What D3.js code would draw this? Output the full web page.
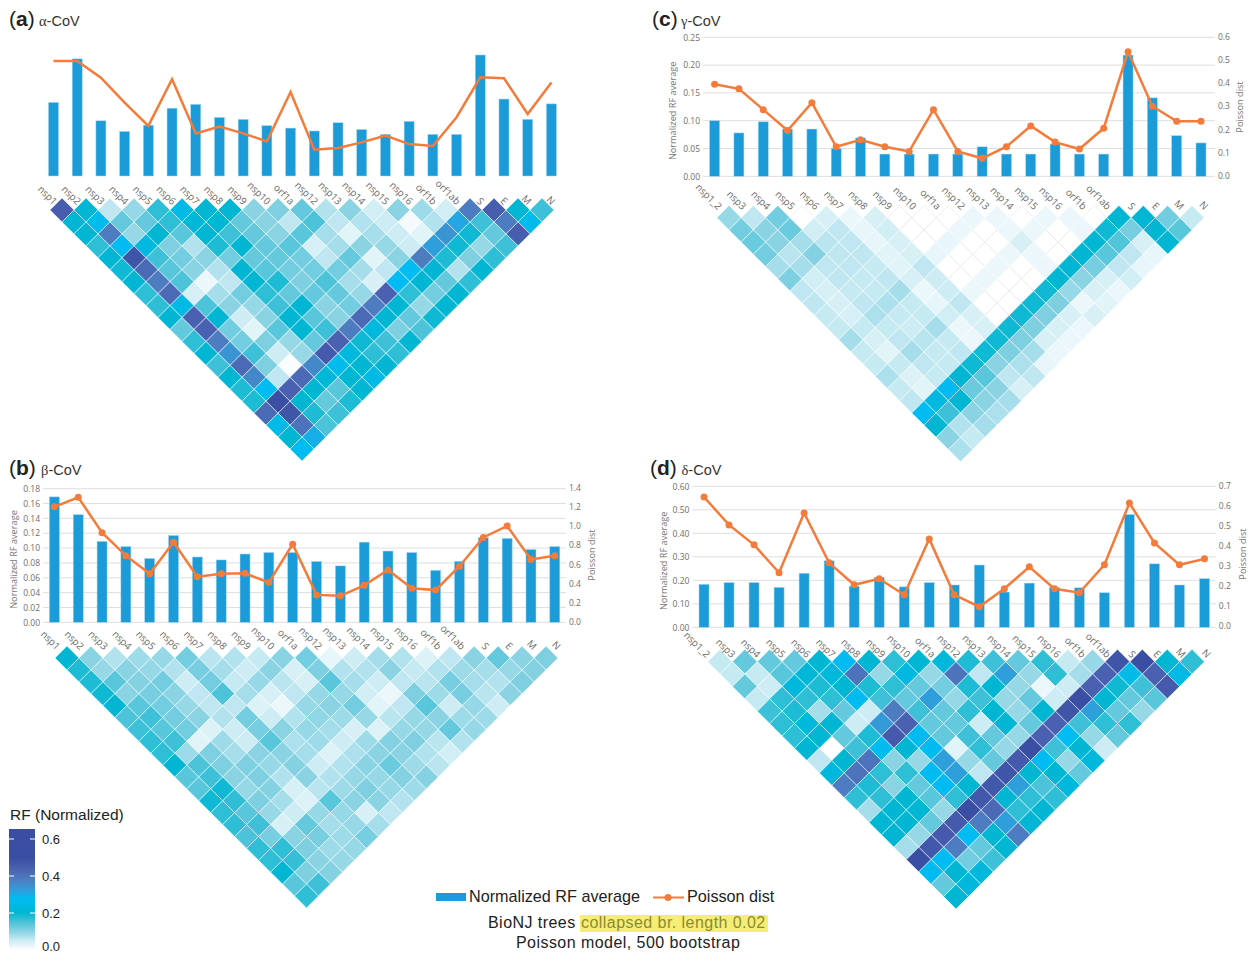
<!DOCTYPE html>
<html>
<head>
<meta charset="utf-8">
<script src="https://cdn.jsdelivr.net/npm/d3@7"></script>
<style>
  html, body { margin: 0; padding: 0; background: #fff; overflow: hidden; }
  svg { display: block; }
</style>
</head>
<body>
<div id="chart"></div>
<script>
// Gene labels
const genes22 = ["nsp1","nsp2","nsp3","nsp4","nsp5","nsp6","nsp7","nsp8","nsp9","nsp10","orf1a","nsp12","nsp13","nsp14","nsp15","nsp16","orf1b","orf1ab","S","E","M","N"];
const genes21 = ["nsp1_2","nsp3","nsp4","nsp5","nsp6","nsp7","nsp8","nsp9","nsp10","orf1a","nsp12","nsp13","nsp14","nsp15","nsp16","orf1b","orf1ab","S","E","M","N"];

// Bar and line values. Panel (a) has no axes so its units are relative.
const alphaRF = [.152,.242,.114,.092,.105,.14,.148,.121,.117,.104,.099,.093,.11,.096,.086,.113,.086,.086,.25,.159,.117,.149];
const alphaPoisson = [.475,.475,.406,.303,.207,.40,.176,.204,.176,.143,.347,.109,.116,.139,.167,.132,.124,.243,.408,.404,.256,.386];
const betaRF = [.169,.145,.109,.102,.086,.117,.088,.084,.092,.094,.094,.082,.076,.108,.096,.094,.070,.082,.114,.113,.098,.102];
const betaPoisson = [1.2,1.3,.93,.69,.5,.83,.47,.5,.505,.41,.81,.28,.27,.38,.54,.35,.33,.58,.88,1.0,.65,.69];
const gammaRF = [.10,.078,.098,.085,.085,.05,.069,.04,.04,.04,.04,.053,.04,.04,.058,.04,.04,.218,.141,.073,.06];
const gammaPoisson = [.395,.375,.285,.195,.315,.125,.155,.125,.105,.285,.105,.075,.125,.215,.145,.115,.205,.535,.30,.235,.235];
const deltaRF = [.183,.19,.19,.17,.23,.283,.175,.213,.172,.19,.18,.265,.15,.188,.17,.168,.147,.48,.27,.18,.207];
const deltaPoisson = [.645,.505,.405,.265,.565,.315,.205,.235,.155,.435,.155,.095,.185,.295,.185,.165,.305,.615,.415,.305,.335];

// Pairwise RF, one array per row of the triangle: row r holds pairs (gene c, gene c+r+1)
const alphaCells = [
  [.45,.2,.06,.09,.17,.24,.2,.2,.10,.11,.13,.07,.10,.045,.10,.085,.045,.38,.45,.2,.16],
  [.2,.26,.13,.13,.17,.21,.2,.13,.10,.06,.15,.06,.07,.05,.01,.07,.31,.16,.38,.26],
  [.2,.38,.09,.2,.14,.2,.16,.13,.10,.14,.08,.03,.08,.05,.03,.34,.19,.13,.45],
  [.17,.28,.23,.11,.07,.18,.2,.13,.14,.04,.08,.10,.09,.05,.32,.19,.09,.16],
  [.2,.48,.16,.12,.10,.12,.13,.13,.12,.06,.13,.03,.10,.38,.18,.11,.17],
  [.19,.42,.14,.10,.07,.2,.14,.12,.12,.12,.08,.06,.28,.2,.07,.2],
  [.2,.38,.15,.02,.06,.2,.18,.11,.15,.08,.04,.28,.2,.13,.17],
  [.17,.42,.04,.08,.12,.17,.13,.13,.13,.09,.44,.17,.12,.2],
  [.17,.24,.15,.10,.09,.16,.2,.10,.12,.38,.2,.09,.2],
  [.2,.44,.2,.05,.1,.2,.14,.10,.42,.2,.13,.19],
  [.13,.44,.12,.03,.14,.2,.16,.38,.22,.11,.15],
  [.17,.38,.12,.11,.09,.13,.44,.19,.16,.2],
  [.2,.34,.16,.05,.09,.46,.22,.17,.17],
  [.16,.42,.11,.005,.36,.26,.2,.2],
  [.2,.36,.06,.42,.21,.2,.24],
  [.18,.28,.44,.2,.14,.2],
  [.18,.5,.2,.13,.18],
  [.42,.48,.18,.16],
  [.25,.4,.15],
  [.2,.3],
  [.27]
];
const betaCells = [
  [.2,.10,.07,.085,.09,.12,.065,.07,.055,.1,.12,.025,.05,.08,.07,.035,.06,.1,.13,.1,.11],
  [.18,.09,.10,.09,.07,.115,.08,.05,.1,.04,.11,.07,.07,.1,.055,.07,.085,.08,.09,.105],
  [.18,.14,.105,.12,.05,.12,.055,.09,.065,.04,.14,.08,.05,.06,.065,.115,.08,.07,.11],
  [.19,.10,.115,.1,.06,.15,.08,.04,.06,.09,.09,.045,.02,.11,.085,.115,.065,.1],
  [.2,.14,.12,.09,.06,.06,.035,.02,.09,.10,.12,.03,.06,.14,.05,.09,.05],
  [.15,.16,.12,.10,.07,.12,.05,.07,.095,.085,.09,.065,.09,.1,.085,.085],
  [.16,.14,.12,.035,.05,.115,.1,.09,.08,.04,.035,.09,.09,.13,.09],
  [.17,.16,.03,.085,.05,.14,.075,.085,.05,.085,.105,.11,.065,.07],
  [.17,.085,.11,.08,.1,.1,.08,.035,.075,.1,.1,.07,.045],
  [.2,.15,.11,.11,.09,.105,.05,.07,.1,.125,.085,.065],
  [.14,.16,.1,.11,.07,.1,.07,.09,.09,.105,.105],
  [.14,.19,.09,.105,.04,.065,.085,.11,.09,.085],
  [.19,.17,.11,.08,.035,.14,.1,.1,.07],
  [.17,.14,.09,.05,.09,.09,.04,.06],
  [.17,.16,.04,.13,.08,.09,.08],
  [.15,.115,.1,.115,.085,.115],
  [.17,.17,.11,.085,.09],
  [.17,.165,.1,.09],
  [.2,.11,.105],
  [.14,.16],
  [.17]
];
const gammaCells = [
  [.09,.06,.12,0,.04,.02,.04,0,0,0,.02,.02,0,.02,.02,0,.2,.2,.12,.055],
  [.12,.10,.125,.045,.06,.025,.045,0,0,.02,0,.02,.02,0,.02,.19,.115,.2,.14],
  [.125,.1,.08,.065,.06,.025,.04,0,.025,0,0,.04,0,0,.2,.145,.04,.2],
  [.12,.065,.105,.06,.06,.03,.04,.025,0,0,.02,.02,0,.2,.14,.06,.025],
  [.08,.08,.06,.06,.055,.03,.06,0,0,.02,0,.02,.2,.115,.06,.025],
  [.11,.045,.06,.055,.06,.04,.05,0,.02,0,0,.2,.1,.04,.045],
  [.06,.04,.055,.055,.08,.02,.05,.02,0,0,.19,.09,.04,.02],
  [.06,.04,.06,.075,.055,.025,.06,0,0,.19,.11,.02,.03],
  [.055,.04,.075,.055,.055,.045,.04,0,.19,.11,.04,.04],
  [.055,.055,.055,.05,.08,.02,.04,.19,.11,.04,.02],
  [.08,.04,.06,.065,.055,.02,.19,.11,.04,.02],
  [.055,.03,.08,.055,.06,.19,.11,.08,.02],
  [.055,.055,.06,.055,.19,.1,.075,.025],
  [.075,.035,.055,.2,.14,.06,.06],
  [.055,.03,.27,.125,.1,.04],
  [.06,.23,.2,.1,.08],
  [.28,.16,.1,.075],
  [.2,.07,.08],
  [.1,.055],
  [.075]
];
const deltaCells = [
  [.055,.13,.13,.13,.2,.28,.2,.17,.2,.22,.18,.16,.13,.17,.055,.09,.48,.5,.2,.17],
  [.055,.055,.14,.21,.22,.40,.09,.23,.09,.4,.06,.32,.09,.17,.08,.44,.25,.44,.24],
  [.13,.05,.22,.18,.2,.18,.17,.13,.12,.18,.2,.09,.02,.05,.44,.19,.16,.46],
  [.055,.17,.17,.17,.27,.16,.13,.32,.09,.16,.09,.13,.05,.5,.2,.13,.14],
  [.16,.18,.08,.13,.05,.38,.16,.13,.17,.2,.09,.2,.48,.32,.13,.09],
  [.17,.22,.2,.05,.33,.44,.13,.13,.05,.2,.13,.44,.16,.17,.17],
  [.17,.2,.13,.18,.46,.27,.13,.16,.13,.09,.44,.28,.09,.13],
  [.2,0,.16,.27,.2,.27,.03,.17,.09,.5,.16,.2,.05],
  [.06,.2,.4,.1,.09,.32,.09,.13,.46,.28,.09,.22],
  [.22,.4,.17,.17,.27,.32,.06,.48,.2,.2,.13],
  [.38,.18,.1,.13,.28,.2,.47,.32,.15,.22],
  [.17,.17,.2,.14,.17,.47,.2,.17,.17],
  [.08,.2,.2,.09,.5,.42,.17,.2],
  [.2,.2,.13,.46,.38,.32,.2],
  [.2,.09,.46,.28,.2,.38],
  [.08,.47,.38,.13,.2],
  [.5,.28,.12,.16],
  [.27,.2,.22],
  [.13,.22],
  [.2]
];

// Colour ramp stops, same for all four triangles and the colour bar
const colorStops = [0,.05,.1,.15,.2,.24,.28,.32,.38,.44,.5,.65];
const colorValues = ["#ffffff","#cdecf4","#8ad3e3","#4cc3d9","#00b6d2","#00b9e4","#00bcf2","#2f9fdc","#4d7dc0","#4a60b0","#3a4fa3","#3a4ca3"];
const rfColor = d3.scaleLinear().domain(colorStops).range(colorValues);

const legendTicks = [0.6, 0.4, 0.2, 0.0];

const barColor = "#1b9cd8";
const lineColor = "#f47b3a";
const tickFont = "'Open Sans', sans-serif";
const textFont = "'Liberation Sans', Arial, sans-serif";

const width = 1250, height = 953;
const svg = d3.select("#chart").append("svg").attr("width", width).attr("height", height);

function drawPanel(p) {
  const g = svg.append("g");

  // Panel heading
  const head = g.append("text").attr("x", p.headX).attr("y", p.headY)
    .style("font-family", textFont).style("font-size", "21px").attr("fill", "#222");
  head.append("tspan").text("(");
  head.append("tspan").text(p.letter).style("font-weight", "bold");
  head.append("tspan").text(")");
  const sub = g.append("text").attr("x", p.subX).attr("y", p.headY)
    .style("font-size", "14.5px").attr("fill", "#333");
  sub.append("tspan").text(p.greek).style("font-family", "'Liberation Serif', serif");
  sub.append("tspan").text("-CoV").style("font-family", textFont);

  // Scales for the combo chart
  const x = d3.scalePoint().domain(p.genes).range([p.barFirst, p.barLast]);
  const y = d3.scaleLinear().domain(p.rfDomain).range([p.base, p.rfTop]);
  const y2 = d3.scaleLinear().domain(p.poissonDomain).range([p.base2, p.poissonTop]);

  if (p.rfTicks) {
    // Grid lines, then tick labels on both sides
    g.append("g").selectAll("line").data(p.rfTicks).enter().append("line")
      .attr("x1", p.gridLeft).attr("x2", p.gridRight)
      .attr("y1", d => y(d)).attr("y2", d => y(d))
      .attr("stroke", "#dedede").attr("stroke-width", 1);

    const left = g.append("g").attr("transform", `translate(${p.gridLeft - 1},0)`)
      .call(d3.axisLeft(y).tickValues(p.rfTicks).tickSize(0).tickPadding(2).tickFormat(d3.format(".2f")));
    const right = g.append("g").attr("transform", `translate(${p.gridRight + 1},0)`)
      .call(d3.axisRight(y2).tickValues(p.poissonTicks).tickSize(0).tickPadding(2).tickFormat(d3.format(".1f")));
    [left, right].forEach(a => {
      a.select(".domain").remove();
      a.selectAll("text").style("font-family", tickFont).style("font-size", "8.5px").attr("fill", "#6e6e6e");
    });

    g.append("text").text("Normalized RF average")
      .attr("transform", `translate(${p.titleLeft},${(p.base + p.rfTop) / 2 + 4}) rotate(-90)`)
      .attr("text-anchor", "middle").style("font-family", tickFont).style("font-size", "9.2px").attr("fill", "#777");
    g.append("text").text("Poisson dist")
      .attr("transform", `translate(${p.titleRight},${p.poissonTitleY}) rotate(-90)`)
      .attr("text-anchor", "middle").style("font-family", tickFont).style("font-size", "9.2px").attr("fill", "#777");
  }

  // Bars
  g.append("g").selectAll("rect").data(p.rf).enter().append("rect")
    .attr("x", (d, i) => x(p.genes[i]) - 5)
    .attr("width", 10)
    .attr("y", d => y(d))
    .attr("height", d => y(0) - y(d))
    .attr("fill", barColor)
    .attr("stroke", "#9fd4ef").attr("stroke-width", 0.5);

  // Poisson line, markers on all panels except (a)
  const line = d3.line().x((d, i) => x(p.genes[i])).y(d => y2(d));
  g.append("path").datum(p.poisson).attr("d", line)
    .attr("fill", "none").attr("stroke", lineColor).attr("stroke-width", 2.5);
  if (p.markers) {
    g.append("g").selectAll("circle").data(p.poisson).enter().append("circle")
      .attr("cx", (d, i) => x(p.genes[i])).attr("cy", d => y2(d)).attr("r", 3.5)
      .attr("fill", lineColor);
  }

  // Triangle of pairs: cell index runs along the top row, row index runs downwards
  const n = p.cells.length;
  const u = d3.scaleLinear().domain([0, n - 1]).range([p.triLeft, p.triRight]);
  const v = d3.scaleLinear().domain([0, n - 1]).range([p.triTop, p.triBottom]);
  const hx = (u(1) - u(0)) / 2, hy = (v(1) - v(0));
  const cells = p.cells.flatMap((row, r) => row.map((value, c) => ({r, c, value})));
  const diamond = d => {
    const cx = u(d.c + d.r / 2), cy = v(d.r);
    return `M${cx},${cy - hy}L${cx + hx},${cy}L${cx},${cy + hy}L${cx - hx},${cy}Z`;
  };
  // White (zero) cells first, so their grey outline sits under the coloured neighbours
  g.append("g").selectAll("path")
    .data(cells.slice().sort((a, b) => (a.value === 0 ? 0 : 1) - (b.value === 0 ? 0 : 1)))
    .enter().append("path")
    .attr("d", diamond)
    .attr("fill", d => rfColor(d.value))
    .attr("stroke", d => d.value === 0 ? "#dcdcdc" : "#ffffff")
    .attr("stroke-width", 0.5);

  // Rotated gene labels, on top of the triangle
  const xAxis = g.append("g").attr("transform", `translate(0,${p.labelY})`)
    .call(d3.axisBottom(x).tickSize(0));
  xAxis.select(".domain").remove();
  xAxis.selectAll("text")
    .attr("y", 0).attr("dy", "0.35em")
    .attr("transform", `translate(${p.labelDx},0) rotate(45)`)
    .style("text-anchor", "end")
    .style("font-family", tickFont).style("font-size", "9.8px").attr("fill", "#6a6a6a");
}

const panels = [
  {letter: "a", greek: "α", headX: 9, subX: 39, headY: 26, genes: genes22, rf: alphaRF, poisson: alphaPoisson,
   rfDomain: [0, .25], poissonDomain: [0, .5], base: 176, rfTop: 55, base2: 176, poissonTop: 55,
   barFirst: 53.5, barLast: 551.4, markers: false, labelY: 203, labelDx: 1.5,
   cells: alphaCells, triLeft: 62, triRight: 542, triTop: 210, triBottom: 449},
  {letter: "b", greek: "β", headX: 9, subX: 41, headY: 475, genes: genes22, rf: betaRF, poisson: betaPoisson,
   rfDomain: [0, .18], poissonDomain: [0, 1.4], base: 622.3, rfTop: 488.7, base2: 621.7, poissonTop: 487.7,
   rfTicks: d3.range(0, .181, .02), poissonTicks: d3.range(0, 1.41, .2),
   gridLeft: 43, gridRight: 566, titleLeft: 17, titleRight: 595, poissonTitleY: 555,
   barFirst: 54.4, barLast: 554.8, markers: true, labelY: 648, labelDx: 3.5,
   cells: betaCells, triLeft: 67, triRight: 546, triTop: 658, triBottom: 896},
  {letter: "c", greek: "γ", headX: 652, subX: 681, headY: 26, genes: genes21, rf: gammaRF, poisson: gammaPoisson,
   rfDomain: [0, .25], poissonDomain: [0, .6], base: 176.3, rfTop: 37.3, base2: 175.7, poissonTop: 36.7,
   rfTicks: d3.range(0, .251, .05), poissonTicks: d3.range(0, .61, .1),
   gridLeft: 703, gridRight: 1215, titleLeft: 676, titleRight: 1243, poissonTitleY: 107,
   barFirst: 714.6, barLast: 1201, markers: true, labelY: 208, labelDx: 5,
   cells: gammaCells, triLeft: 729, triRight: 1192, triTop: 217.7, triBottom: 449.5},
  {letter: "d", greek: "δ", headX: 650, subX: 681.5, headY: 475, genes: genes21, rf: deltaRF, poisson: deltaPoisson,
   rfDomain: [0, .6], poissonDomain: [0, .7], base: 627.3, rfTop: 486.3, base2: 625.7, poissonTop: 486,
   rfTicks: d3.range(0, .601, .1), poissonTicks: d3.range(0, .71, .1),
   gridLeft: 692.4, gridRight: 1215.8, titleLeft: 667, titleRight: 1246, poissonTitleY: 554,
   barFirst: 704, barLast: 1204.5, markers: true, labelY: 656, labelDx: 4,
   cells: deltaCells, triLeft: 720, triRight: 1192, triTop: 661.7, triBottom: 896.6}
];
panels.forEach(drawPanel);

// Colour bar, running down to the bottom edge of the page
const legendScale = d3.scaleLinear().domain([0, 0.6]).range([950, 839]);
const defs = svg.append("defs");
const grad = defs.append("linearGradient").attr("id", "rf-grad")
  .attr("x1", 0).attr("x2", 0).attr("y1", 1).attr("y2", 0);
grad.selectAll("stop").data(colorStops).enter().append("stop")
  .attr("offset", d => d / 0.654)
  .attr("stop-color", d => rfColor(d));

const legend = svg.append("g");
legend.append("text").text("RF (Normalized)").attr("x", 10).attr("y", 820)
  .style("font-family", textFont).style("font-size", "15.5px").attr("fill", "#222");
legend.append("rect").attr("x", 9).attr("width", 26)
  .attr("y", legendScale(0.654)).attr("height", legendScale(0) - legendScale(0.654))
  .attr("fill", "url(#rf-grad)");
const tick = legend.selectAll("g.t").data(legendTicks).enter().append("g").attr("class", "t")
  .attr("transform", d => `translate(0,${legendScale(d)})`);
tick.filter(d => d > 0).append("line").attr("x1", 9).attr("x2", 14).attr("stroke", "#fff");
tick.filter(d => d > 0).append("line").attr("x1", 30).attr("x2", 35).attr("stroke", "#fff");
// 0.0 nudged up a little so it stays on the page
tick.append("text").text(d => d.toFixed(1)).attr("x", 42).attr("dy", "0.36em")
  .attr("y", d => d === 0 ? -3.5 : 0)
  .style("font-family", textFont).style("font-size", "13px").attr("fill", "#222");

// Series key and the note under it
const key = svg.append("g").style("font-family", textFont).attr("fill", "#222");
key.append("rect").attr("x", 436).attr("y", 893).attr("width", 30).attr("height", 8).attr("fill", barColor);
key.append("text").text("Normalized RF average").attr("x", 469).attr("y", 902).style("font-size", "16.2px");
key.append("line").attr("x1", 653).attr("x2", 684).attr("y1", 897.5).attr("y2", 897.5)
  .attr("stroke", lineColor).attr("stroke-width", 2);
key.append("circle").attr("cx", 668).attr("cy", 897.5).attr("r", 3.5).attr("fill", lineColor);
key.append("text").text("Poisson dist").attr("x", 687).attr("y", 902).style("font-size", "16.2px");

key.append("rect").attr("x", 580).attr("y", 915).attr("width", 188).attr("height", 17).attr("fill", "#f6ee74");
key.append("text").text("BioNJ trees").attr("x", 488).attr("y", 928).style("font-size", "16px").style("letter-spacing", "0.45px");
key.append("text").text("collapsed br. length 0.02").attr("x", 581).attr("y", 928)
  .style("font-size", "16px").style("letter-spacing", "0.45px").attr("fill", "#8a8a35");
key.append("text").text("Poisson model, 500 bootstrap").attr("x", 516).attr("y", 948)
  .style("font-size", "16px").style("letter-spacing", "0.45px");
</script>
</body>
</html>
